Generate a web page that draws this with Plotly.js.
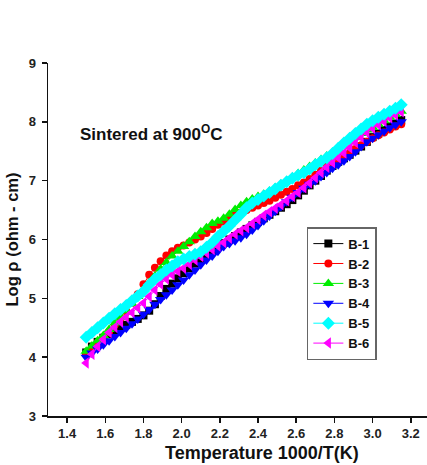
<!DOCTYPE html>
<html><head><meta charset="utf-8">
<script src="https://cdn.plot.ly/plotly-3.0.1.min.js"></script>
<style>html,body{margin:0;padding:0;background:#fff}</style>
</head><body><div id="chart" style="width:427px;height:465px"></div>
<script>
const xVals = [1.50,1.53,1.56,1.59,1.62,1.65,1.68,1.71,1.74,1.77,1.80,1.83,1.86,1.89,1.92,1.95,1.98,2.01,2.04,2.07,2.10,2.13,2.16,2.19,2.22,2.25,2.28,2.31,2.34,2.37,2.40,2.43,2.46,2.49,2.52,2.55,2.58,2.61,2.64,2.67,2.70,2.73,2.76,2.79,2.82,2.85,2.88,2.91,2.94,2.97,3.00,3.03,3.06,3.09,3.12,3.15];
const b1 = [4.08,4.18,4.26,4.33,4.39,4.45,4.50,4.55,4.60,4.65,4.71,4.79,4.90,5.04,5.16,5.25,5.34,5.43,5.51,5.59,5.66,5.74,5.81,5.88,5.94,6.00,6.06,6.12,6.18,6.24,6.30,6.36,6.42,6.48,6.54,6.60,6.67,6.75,6.83,6.92,7.00,7.08,7.17,7.25,7.32,7.38,7.44,7.51,7.58,7.66,7.74,7.80,7.86,7.92,7.97,8.03];
const b2 = [4.05,4.14,4.23,4.33,4.43,4.55,4.66,4.78,4.92,5.07,5.24,5.40,5.52,5.63,5.73,5.80,5.86,5.90,5.95,6.00,6.05,6.11,6.18,6.25,6.30,6.36,6.42,6.46,6.50,6.54,6.58,6.62,6.66,6.71,6.76,6.81,6.86,6.92,6.97,7.03,7.10,7.17,7.24,7.30,7.36,7.42,7.48,7.54,7.60,7.66,7.72,7.77,7.82,7.87,7.92,7.96];
const b3 = [4.10,4.19,4.28,4.37,4.47,4.58,4.68,4.79,4.91,5.03,5.15,5.27,5.38,5.50,5.61,5.72,5.80,5.88,5.96,6.05,6.13,6.20,6.27,6.31,6.36,6.43,6.51,6.58,6.64,6.69,6.73,6.77,6.82,6.88,6.94,7.00,7.06,7.12,7.18,7.24,7.30,7.36,7.42,7.48,7.53,7.59,7.66,7.73,7.80,7.86,7.91,7.96,8.02,8.08,8.13,8.18];
const b4 = [4.00,4.07,4.14,4.21,4.28,4.35,4.42,4.49,4.57,4.65,4.73,4.81,4.90,4.98,5.06,5.14,5.23,5.31,5.40,5.48,5.57,5.65,5.72,5.80,5.88,5.93,5.98,6.03,6.09,6.16,6.24,6.32,6.40,6.48,6.56,6.64,6.72,6.80,6.87,6.94,7.00,7.07,7.14,7.21,7.27,7.34,7.41,7.49,7.58,7.66,7.72,7.78,7.84,7.90,7.95,8.00];
const b5 = [4.34,4.42,4.50,4.58,4.66,4.74,4.81,4.88,4.96,5.04,5.12,5.23,5.33,5.40,5.48,5.55,5.62,5.67,5.71,5.75,5.79,5.87,5.95,6.05,6.14,6.23,6.33,6.43,6.54,6.62,6.68,6.74,6.80,6.86,6.92,6.98,7.04,7.09,7.14,7.20,7.27,7.33,7.39,7.46,7.55,7.64,7.72,7.80,7.88,7.96,8.02,8.08,8.13,8.18,8.23,8.29];
const b6 = [3.90,4.05,4.18,4.30,4.42,4.51,4.60,4.68,4.76,4.84,4.92,5.03,5.14,5.24,5.33,5.40,5.46,5.51,5.58,5.65,5.71,5.77,5.83,5.89,5.95,6.02,6.09,6.15,6.20,6.27,6.34,6.41,6.47,6.53,6.59,6.66,6.73,6.80,6.88,6.96,7.05,7.14,7.23,7.31,7.39,7.47,7.56,7.65,7.74,7.82,7.89,7.95,8.01,8.07,8.12,8.17];
const names = ['B-1','B-2','B-3','B-4','B-5','B-6'];
const colors = ['#000000','#ff0000','#00ee00','#0000ff','#00ffff','#ff00ff'];
const symbols = ['square','circle','triangle-up','triangle-down','diamond','triangle-left'];
const series = [b1,b2,b3,b4,b5,b6];
const drawOrder = [0,1,2,3,5,4];
const traces = drawOrder.map(i => ({
  x: xVals, y: series[i], name: names[i], type: 'scatter', mode: 'lines+markers',
  line: {color: colors[i], width: 1},
  marker: {symbol: symbols[i], color: colors[i], size: symbols[i]==='circle'||symbols[i]==='square' ? 8 : 10, line: {width: 0}},
  legendrank: i + 1
}));
const FF = 'Liberation Sans, Arial, sans-serif';
const axFont = {family: FF, size: 13, color: '#222', weight: 'bold'};
const layout = {
  width: 427, height: 465,
  margin: {l: 48, r: 0, t: 63, b: 49},
  paper_bgcolor: '#fff', plot_bgcolor: '#fff',
  showlegend: true,
  legend: {x: 0.683, y: 0.535, xanchor: 'left', yanchor: 'top', bordercolor: '#666', borderwidth: 1.5,
    bgcolor: '#fff', font: {family: FF, size: 13, color: '#111', weight: 'bold'},
    traceorder: 'normal', itemwidth: 30, tracegroupgap: 0},
  xaxis: {range: [1.3, 3.285], tickvals: [1.4,1.6,1.8,2.0,2.2,2.4,2.6,2.8,3.0,3.2],
    ticktext: ['1.4','1.6','1.8','2.0','2.2','2.4','2.6','2.8','3.0','3.2'],
    ticks: 'outside', ticklen: 5, tickwidth: 1.5, tickcolor: '#111', showgrid: false, zeroline: false,
    showline: true, linecolor: '#111', linewidth: 1.5, tickfont: axFont},
  yaxis: {range: [3, 9], tickvals: [3,4,5,6,7,8,9], ticks: 'outside', ticklen: 5, tickwidth: 1.5, tickcolor: '#111',
    showgrid: false, zeroline: false, showline: true, linecolor: '#111', linewidth: 1.5,
    tickfont: axFont, ticklabelstandoff: 3,
    title: {text: 'Log ρ (ohm - cm)', font: {family: FF, size: 16.5, color: '#111', weight: 'bold'}, standoff: 6}},
  annotations: [
    {x: 1.457, y: 7.81, xref: 'x', yref: 'y', xanchor: 'left', yanchor: 'middle', showarrow: false,
     text: 'Sintered at 900<sup>O</sup>C', font: {family: FF, size: 17, color: '#111', weight: 'bold'}},
    {x: 0.565, y: -0.105, xref: 'paper', yref: 'paper', xanchor: 'center', yanchor: 'middle', showarrow: false,
     text: 'Temperature 1000/T(K)', font: {family: FF, size: 18, color: '#111', weight: 'bold'}}
  ]
};
Plotly.newPlot('chart', traces, layout, {displayModeBar: false, staticPlot: true});
</script></body></html>
